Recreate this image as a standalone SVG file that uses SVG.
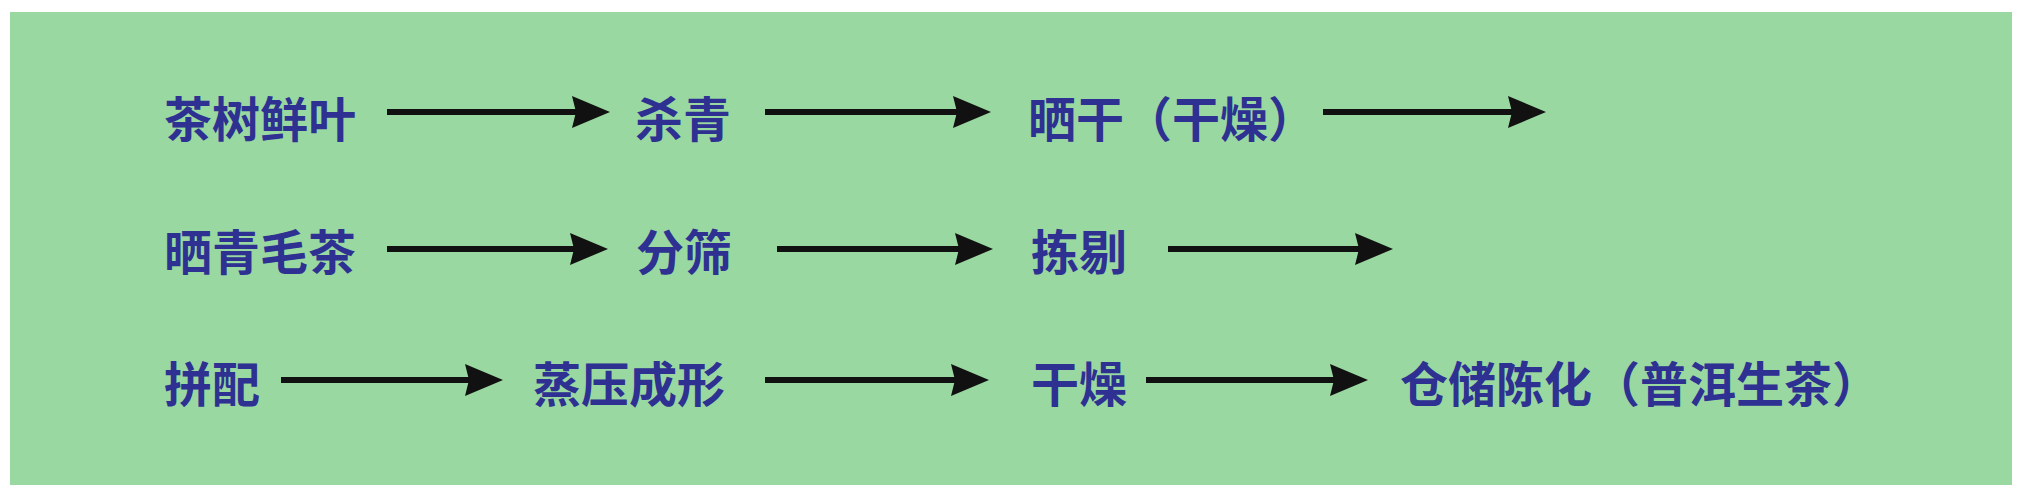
<svg xmlns="http://www.w3.org/2000/svg" width="2024" height="500" viewBox="0 0 2024 500">
<defs>
<style>
.lbl{font-family:"Noto Sans CJK SC","Noto Sans",sans-serif;font-size:48px;font-weight:700;fill:#2E3192;dominant-baseline:central}
.conn{stroke:#111;stroke-width:6;fill:none}
</style>
<marker id="ah" viewBox="0 0 38 32" refX="18" refY="16" markerWidth="38" markerHeight="32" markerUnits="userSpaceOnUse" orient="auto">
<path d="M0,0 L38,16 L0,32 L4,16 Z" fill="#111"/>
</marker>
</defs>
<rect x="0" y="0" width="2024" height="500" fill="#ffffff"/>
<rect x="10" y="12" width="2002" height="473" fill="#99D9A1"/>
<g id="n1"><text class="lbl" x="164" y="116">茶树鲜叶</text></g>
<g id="n2"><text class="lbl" x="635" y="116">杀青</text></g>
<g id="n3"><text class="lbl" x="1028" y="116">晒干（干燥）</text></g>
<g id="n4"><text class="lbl" x="164" y="249">晒青毛茶</text></g>
<g id="n5"><text class="lbl" x="636" y="249">分筛</text></g>
<g id="n6"><text class="lbl" x="1031" y="249">拣剔</text></g>
<g id="n7"><text class="lbl" x="164" y="381">拼配</text></g>
<g id="n8"><text class="lbl" x="533" y="381">蒸压成形</text></g>
<g id="n9"><text class="lbl" x="1031" y="381">干燥</text></g>
<g id="n10"><text class="lbl" x="1400" y="381">仓储陈化（普洱生茶）</text></g>
<g id="connectors">
<line class="conn" x1="387" y1="112" x2="590" y2="112" marker-end="url(#ah)"/>
<line class="conn" x1="765" y1="112" x2="971" y2="112" marker-end="url(#ah)"/>
<line class="conn" x1="1323" y1="112" x2="1526" y2="112" marker-end="url(#ah)"/>
<line class="conn" x1="387" y1="249" x2="588" y2="249" marker-end="url(#ah)"/>
<line class="conn" x1="777" y1="249" x2="973" y2="249" marker-end="url(#ah)"/>
<line class="conn" x1="1168" y1="249" x2="1373" y2="249" marker-end="url(#ah)"/>
<line class="conn" x1="281" y1="380" x2="483" y2="380" marker-end="url(#ah)"/>
<line class="conn" x1="765" y1="380" x2="969" y2="380" marker-end="url(#ah)"/>
<line class="conn" x1="1146" y1="380" x2="1348" y2="380" marker-end="url(#ah)"/>
</g>
</svg>
